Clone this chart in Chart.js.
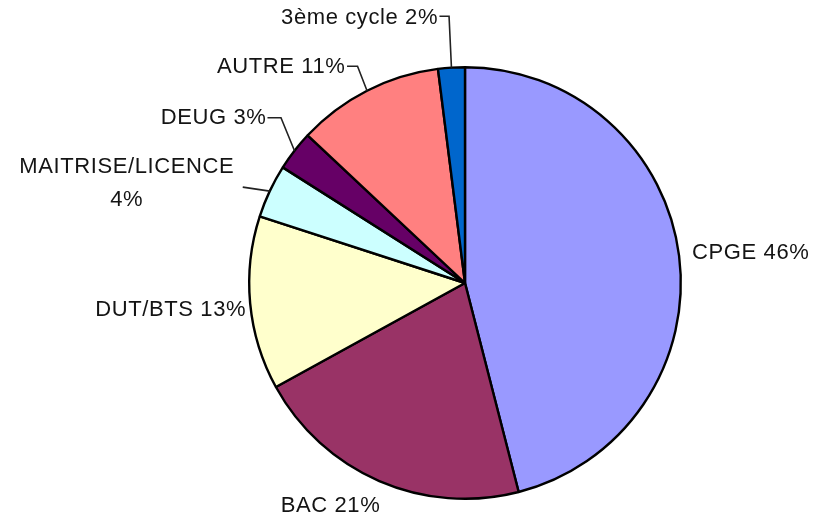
<!DOCTYPE html>
<html>
<head>
<meta charset="utf-8">
<script src="https://cdn.jsdelivr.net/npm/chart.js@4/dist/chart.umd.min.js"></script>
<style>
  html, body { margin: 0; padding: 0; background: #ffffff; }
  #wrap { width: 816px; height: 519px; position: relative; }
</style>
</head>
<body>
<div id="wrap"><canvas id="c" width="816" height="519"></canvas></div>
<script>
// ---- data ----
const categories = ["CPGE", "BAC", "DUT/BTS", "MAITRISE/LICENCE", "DEUG", "AUTRE", "3ème cycle"];
const shares = [46, 21, 13, 4, 3, 11, 2];
const sliceColors = ["#9999FF", "#993366", "#FFFFCC", "#CCFFFF", "#660066", "#FF8080", "#0066CC"];

// label placement relative to the slice's outer mid-point (style only)
const labelLayout = [
  { dx: 13, dy: -3, align: "left" },
  { dx: 1, dy: 25, align: "right" },
  { dx: -4, dy: 7, align: "right" },
  { dx: -143, dy: -24, align: "center", split: true, lineGap: 33, leader: [[-27, -4]] },
  { dx: -28, dy: -33, align: "right", leader: [[-13.5, -33], [-27, -33]] },
  { dx: -21.5, dy: -23.5, align: "right", leader: [[-9.5, -24.5], [-20, -24.5]] },
  { dx: -13.4, dy: -50, align: "right", leader: [[-2.4, -51.4], [-12, -51.4]] }
];

const pieLabels = {
  id: "pieLabels",
  afterDatasetsDraw(chart, args, opts) {
    const ctx = chart.ctx;
    const meta = chart.getDatasetMeta(0);
    ctx.save();
    ctx.font = "22px 'Liberation Sans', Arial, sans-serif";
    if ('letterSpacing' in ctx) ctx.letterSpacing = "0.6px";
    ctx.fillStyle = "#141414";
    ctx.textBaseline = "middle";
    meta.data.forEach((arc, i) => {
      const p = arc.getProps(["x", "y", "startAngle", "endAngle", "outerRadius"], true);
      const mid = (p.startAngle + p.endAngle) / 2;
      const ax = p.x + Math.cos(mid) * p.outerRadius;
      const ay = p.y + Math.sin(mid) * p.outerRadius;
      const cfg = opts.layout[i];
      if (cfg.leader) {
        ctx.beginPath();
        ctx.strokeStyle = "#222222";
        ctx.lineWidth = 1.6;
        ctx.moveTo(ax, ay);
        cfg.leader.forEach(pt => ctx.lineTo(ax + pt[0], ay + pt[1]));
        ctx.stroke();
      }
      ctx.textAlign = cfg.align;
      const tx = ax + cfg.dx, ty = ay + cfg.dy;
      const name = chart.data.labels[i];
      const val = chart.data.datasets[0].data[i] + "%";
      if (cfg.split) {
        ctx.fillText(name, tx, ty);
        ctx.fillText(val, tx, ty + cfg.lineGap);
      } else {
        ctx.fillText(name + " " + val, tx, ty);
      }
    });
    ctx.restore();
  }
};

new Chart(document.getElementById("c"), {
  type: "pie",
  data: {
    labels: categories,
    datasets: [{
      data: shares,
      backgroundColor: sliceColors,
      borderColor: "#000000",
      borderWidth: 2.4,
      hoverOffset: 0
    }]
  },
  options: {
    responsive: false,
    animation: false,
    layout: { padding: { left: 248, right: 134, top: 66, bottom: 19 } },
    plugins: {
      legend: { display: false },
      tooltip: { enabled: false },
      pieLabels: { layout: labelLayout }
    }
  },
  plugins: [pieLabels]
});
</script>
</body>
</html>
